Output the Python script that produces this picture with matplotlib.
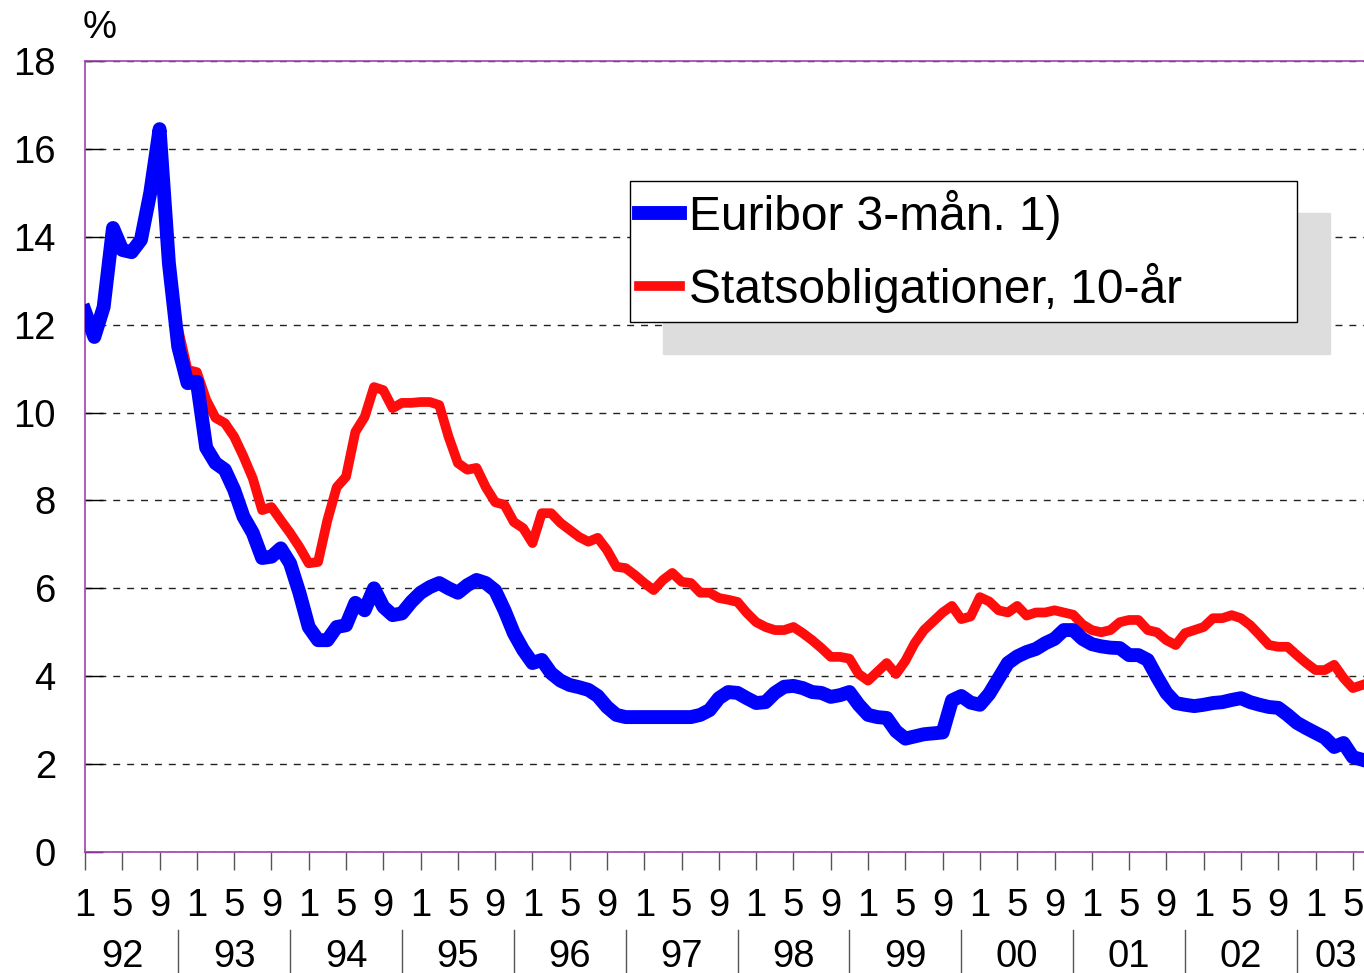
import matplotlib
matplotlib.use("Agg")
import matplotlib.pyplot as plt
import numpy as np

plt.rcParams['font.family'] = ['Liberation Sans', 'DejaVu Sans']

# monthly observations, Jan 1992 .. Jun 2003
euribor = [
    12.3, 11.72, 12.4, 14.2, 13.7, 13.65, 13.93, 15.0, 16.45, 13.4, 11.5, 10.67,   # 92
    10.7, 9.2, 8.85, 8.7, 8.24, 7.63, 7.26, 6.69, 6.72, 6.91, 6.57, 5.9,            # 93
    5.12, 4.82, 4.82, 5.12, 5.16, 5.67, 5.5, 6.0, 5.58, 5.39, 5.43, 5.69,           # 94
    5.9, 6.03, 6.12, 6.0, 5.9, 6.07, 6.19, 6.12, 5.95, 5.5, 4.98, 4.6,              # 95
    4.3, 4.37, 4.07, 3.9, 3.8, 3.75, 3.69, 3.55, 3.3, 3.12, 3.07, 3.07,             # 96
    3.07, 3.07, 3.07, 3.07, 3.07, 3.07, 3.12, 3.23, 3.5, 3.64, 3.62, 3.5,           # 97
    3.39, 3.41, 3.62, 3.76, 3.78, 3.73, 3.64, 3.62, 3.53, 3.57, 3.64, 3.35,         # 98
    3.12, 3.07, 3.05, 2.75, 2.58, 2.63, 2.68, 2.7, 2.72, 3.45, 3.55, 3.4,           # 99
    3.35, 3.6, 3.95, 4.3, 4.45, 4.55, 4.62, 4.75, 4.85, 5.05, 5.05, 4.85,           # 00
    4.73, 4.68, 4.65, 4.64, 4.48, 4.48, 4.37, 3.98, 3.62, 3.39, 3.35, 3.32,         # 01
    3.35, 3.39, 3.41, 3.46, 3.5, 3.41, 3.35, 3.3, 3.28, 3.12, 2.94, 2.82,           # 02
    2.71, 2.6, 2.39, 2.48, 2.16, 2.1,                                                # 03
]

# 10-year government bond, starts Nov 1992
bond_start = 10
bond = [
    11.9, 10.97,                                                                     # 92
    10.92, 10.29, 9.88, 9.76, 9.45, 9.0, 8.5, 7.78, 7.85, 7.55, 7.26, 6.94,         # 93
    6.57, 6.6, 7.55, 8.3, 8.54, 9.56, 9.9, 10.58, 10.51, 10.1, 10.22, 10.22,        # 94
    10.24, 10.24, 10.17, 9.45, 8.85, 8.7, 8.74, 8.3, 7.96, 7.9, 7.51, 7.37,         # 95
    7.03, 7.71, 7.71, 7.49, 7.33, 7.17, 7.06, 7.15, 6.87, 6.49, 6.46, 6.3,          # 96
    6.12, 5.96, 6.19, 6.35, 6.15, 6.12, 5.9, 5.9, 5.78, 5.74, 5.69, 5.44,           # 97
    5.23, 5.12, 5.05, 5.05, 5.12, 4.98, 4.82, 4.64, 4.44, 4.44, 4.4, 4.05,          # 98
    3.9, 4.1, 4.3, 4.05, 4.35, 4.75, 5.05, 5.25, 5.45, 5.6, 5.3, 5.36,              # 99
    5.8, 5.7, 5.5, 5.45, 5.6, 5.38, 5.45, 5.45, 5.5, 5.45, 5.4, 5.18,               # 00
    5.05, 5.0, 5.05, 5.23, 5.28, 5.28, 5.05, 5.0, 4.82, 4.71, 4.98, 5.05,           # 01
    5.12, 5.32, 5.32, 5.39, 5.32, 5.16, 4.94, 4.71, 4.67, 4.67, 4.48, 4.3,          # 02
    4.14, 4.14, 4.26, 3.96, 3.73, 3.8,                                               # 03
]

years = ['92', '93', '94', '95', '96', '97', '98', '99', '00', '01', '02', '03']
month_labels = ['1', '5', '9']

labels = ['Euribor 3-mån. 1)', 'Statsobligationer, 10-år']

x_eur = np.arange(len(euribor))
x_bond = np.arange(bond_start, bond_start + len(bond))

fig = plt.figure(figsize=(13.64, 9.73), dpi=100)
ax = fig.add_axes([85 / 1364, 121 / 973, 1 - 85 / 1364, 791 / 973])

l_red, = ax.plot(x_bond, bond, color='#ff0d0d', lw=7, solid_joinstyle='round', zorder=3)
l_blue, = ax.plot(x_eur, euribor, color='#0000ff', lw=10, solid_joinstyle='round', zorder=4)

ax.set_xlim(0, 137.2)
ax.set_ylim(0, 18)

ax.set_yticks(range(0, 19, 2))
ax.set_yticklabels([str(v) for v in range(0, 19, 2)])
ax.tick_params(axis='y', direction='in', length=13, width=1, color='black',
               labelsize=27.5, pad=21)

xt = list(range(0, len(euribor), 4))
ax.set_xticks(xt)
ax.set_xticklabels([month_labels[(t // 4) % 3] for t in xt])
ax.tick_params(axis='x', direction='out', length=13, width=1, color='#555555',
               labelsize=27.5, pad=13)

ax.grid(axis='y', color='#222222', linestyle=(0, (5, 5)), lw=1)
ax.set_axisbelow(True)

for s in ['left', 'bottom', 'top']:
    ax.spines[s].set_color('#a040b0')
    ax.spines[s].set_linewidth(1.2)
ax.spines['right'].set_visible(False)

# year row under the month labels
trans = ax.get_xaxis_transform()
for k, yr in enumerate(years):
    xc = 4 + 12 * k if k < len(years) - 1 else 134.2
    ax.text(xc, -0.1325, yr, transform=trans, ha='center', va='center', fontsize=27.5)
for k in range(len(years) - 1):
    xs = 10 + 12 * k
    ax.plot([xs, xs], [-0.0986, -0.16], transform=trans, color='#555555', lw=1, clip_on=False)

fig.text(100 / 1364, 1 - 28 / 973, '%', ha='center', va='center', fontsize=27.5)

ax.legend([l_blue, l_red], labels, loc='upper left',
          bbox_to_anchor=(630 / 1364, 1 - 325 / 973, 667 / 1364, 144 / 973),
          bbox_transform=fig.transFigure, mode='expand', borderaxespad=0,
          fontsize=34.5, handlelength=0.85, handletextpad=0.2, borderpad=0.19,
          labelspacing=0.47, fancybox=False, framealpha=1, edgecolor='black',
          shadow={'ox': 23.8, 'oy': -23.0, 'facecolor': '#dddddd',
                  'edgecolor': '#dddddd', 'alpha': 1})
leg = ax.get_legend()
leg.get_frame().set_linewidth(1)

fig.savefig('out.png', dpi=100)
